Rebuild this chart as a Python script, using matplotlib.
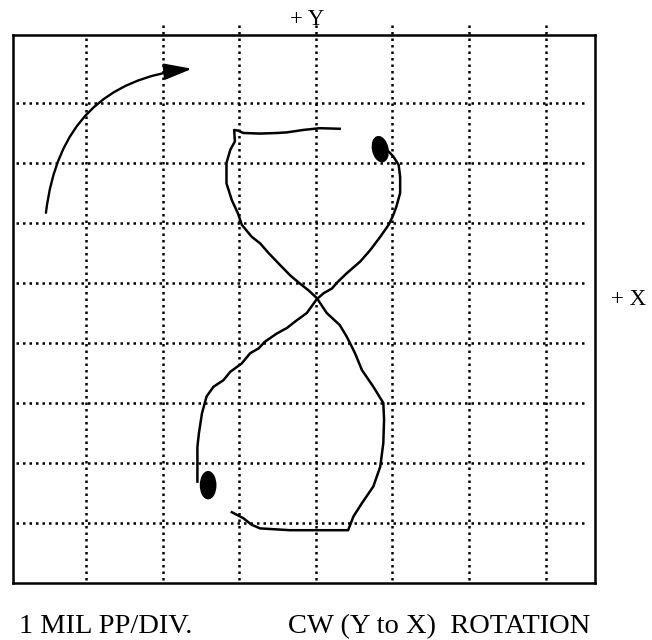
import matplotlib.pyplot as plt
from matplotlib.patches import Ellipse, FancyArrowPatch

# orbit trace, in mil (1 division = 1 mil pp)
# strand 1: top bar -> left of upper lobe -> cross -> right of lower lobe -> bottom bar
trace1_x = [0.31, 0.05, -0.17, -0.38, -0.51, -0.73, -0.95, -1.02, -1.07, -1.06,
            -1.12, -1.17, -1.17, -1.10, -1.02, -0.97, -0.84, -0.73, -0.62, -0.47,
            -0.34, -0.21, -0.10, 0.01, 0.14, 0.31, 0.40, 0.51, 0.60, 0.75,
            0.88, 0.89, 0.88, 0.84, 0.75, 0.60, 0.49, 0.42, 0.27, -0.04,
            -0.34, -0.73, -0.84, -0.95, -1.10]
trace1_y = [7.57, 7.58, 7.55, 7.51, 7.50, 7.49, 7.50, 7.54, 7.55, 7.36,
            7.22, 7.00, 6.66, 6.38, 6.16, 5.97, 5.77, 5.66, 5.50, 5.30,
            5.13, 4.99, 4.88, 4.75, 4.50, 4.30, 4.11, 3.83, 3.55, 3.27,
            3.00, 2.72, 2.33, 1.94, 1.61, 1.33, 1.11, 0.88, 0.88, 0.88,
            0.88, 0.91, 0.97, 1.08, 1.18]
# strand 2: upper dot -> right of upper lobe -> cross -> left of lower lobe -> lower dot
trace2_x = [0.84, 0.95, 1.01, 1.08, 1.10, 1.10, 1.05, 1.01, 0.95, 0.84,
            0.71, 0.58, 0.40, 0.27, 0.21, 0.10, 0.01, -0.12, -0.27, -0.38,
            -0.51, -0.67, -0.75, -0.86, -0.97, -1.12, -1.21, -1.34, -1.43, -1.49,
            -1.53, -1.55, -1.55, -1.55]
trace2_y = [7.23, 7.19, 7.11, 6.97, 6.77, 6.50, 6.27, 6.13, 5.97, 5.77,
            5.55, 5.36, 5.16, 5.00, 4.91, 4.83, 4.73, 4.50, 4.36, 4.25,
            4.16, 4.02, 3.91, 3.83, 3.66, 3.52, 3.38, 3.27, 3.11, 2.83,
            2.50, 2.27, 1.94, 1.69]

# keyphasor dots (x, y)
dots = [(0.84, 7.23), (-1.41, 1.63)]

# grid divisions
grid_x = [-3, -2, -1, 0, 1, 2, 3]
grid_y = [1, 2, 3, 4, 5, 6, 7, 8]

# rotation arrow (tail, head)
arrow_tail = (-3.53, 6.17)
arrow_head = (-1.62, 8.57)

serif = ['Liberation Serif', 'DejaVu Serif']

fig = plt.figure(figsize=(6.52, 6.4), dpi=100)
ax = fig.add_axes([12.5 / 652, 57 / 640, 582.5 / 652, 548 / 640])
ax.set_xlim(-3.967, 3.647)
ax.set_ylim(0, 9.133)
ax.set_xticks([])
ax.set_yticks([])
for s in ax.spines.values():
    s.set_linewidth(1.8)

dot_style = dict(color='black', linestyle=(0, (1, 1.6)), linewidth=1.8,
                 dash_capstyle='butt')
for gx in grid_x:
    top = 9.133 if gx == -3 else 9.3
    ax.plot([gx, gx], [0.05, top], clip_on=False, **dot_style)
for gy in grid_y:
    ax.plot([-3.92, 3.52], [gy, gy], **dot_style)

ax.plot(trace1_x, trace1_y, color='black', linewidth=1.8)
ax.plot(trace2_x, trace2_y, color='black', linewidth=1.8)
ax.add_patch(Ellipse(dots[0], 0.2, 0.42, angle=8, color='black'))
ax.add_patch(Ellipse(dots[1], 0.2, 0.45, angle=0, color='black'))

arr = FancyArrowPatch(arrow_tail, arrow_head, connectionstyle='arc3,rad=-0.4',
                      arrowstyle='-|>,head_length=0.85,head_width=0.25',
                      mutation_scale=20, color='black', linewidth=1.7,
                      shrinkA=0, shrinkB=0)
ax.add_patch(arr)

fig.text(290 / 652, 1 - 25 / 640, '+ Y', family=serif, fontsize=16.5,
         ha='left', va='baseline')
fig.text(611 / 652, 1 - 305 / 640, '+ X', family=serif, fontsize=16.5,
         ha='left', va='baseline')
fig.text(19 / 652, 1 - 633 / 640, '1 MIL PP/DIV.', family=serif, fontsize=20.5,
         ha='left', va='baseline')
fig.text(288 / 652, 1 - 633 / 640, 'CW (Y to X)  ROTATION', family=serif,
         fontsize=20.5, ha='left', va='baseline')

plt.savefig('out.png', dpi=100)
